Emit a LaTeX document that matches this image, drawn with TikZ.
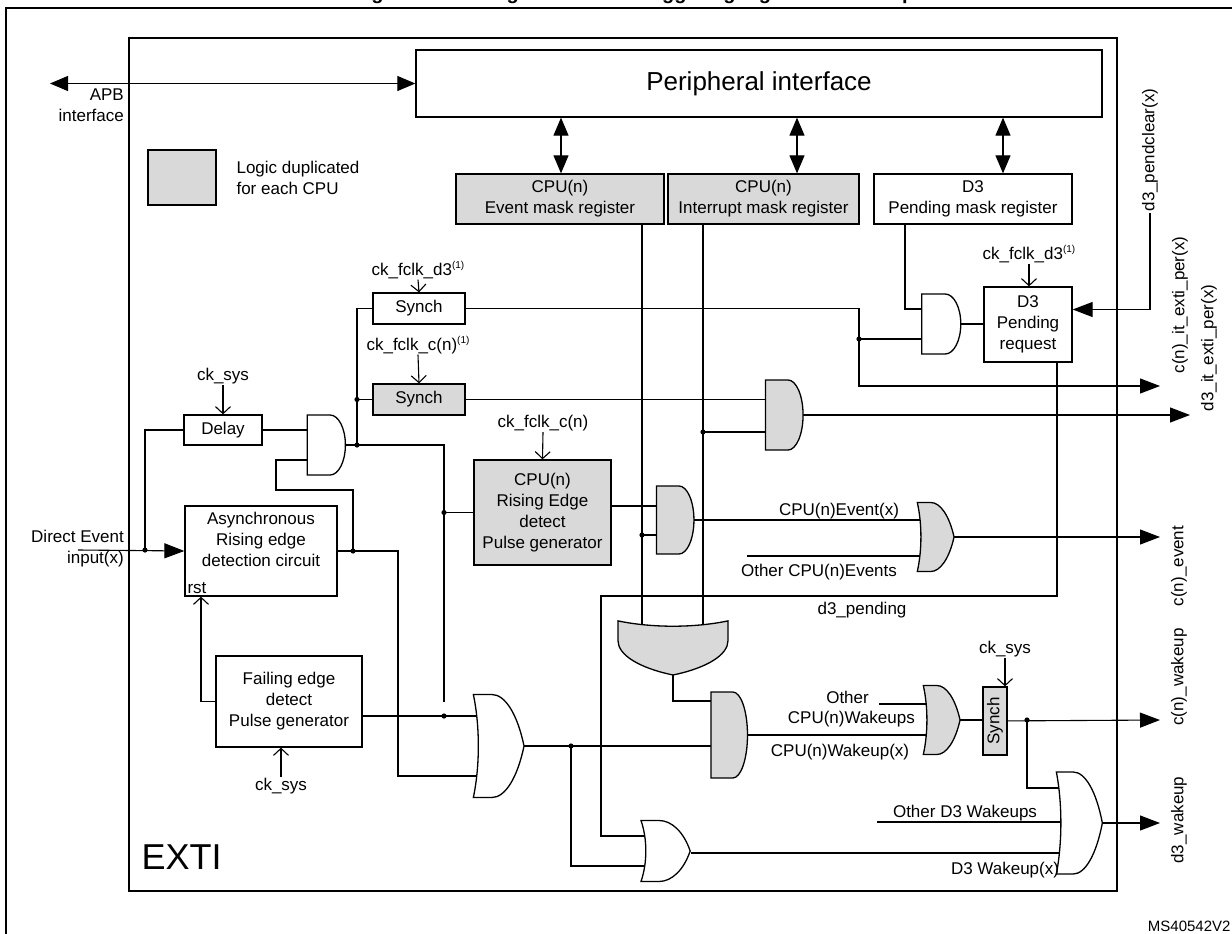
\documentclass[tikz,border=0pt]{standalone}
\usepackage{fontspec}
\setmainfont{Liberation Sans}
\usetikzlibrary{shapes.gates.logic.US,arrows.meta,backgrounds,calc}
\definecolor{dup}{gray}{0.85}
\newcommand\fs{\fontsize{17}{21}\selectfont}
\newcommand\nt{\raisebox{0.7ex}{\fontsize{10}{10}\selectfont(1)}}
\begin{document}
\begin{tikzpicture}[x=1pt,y=-1pt]
       \tikzstyle{blk}=[draw, line width=1.3pt, fill=white, align=center, inner sep=0pt, font=\fs]
       \tikzstyle{shd}=[blk, fill=dup]
       \tikzstyle{lbl}=[font=\fs, inner sep=1pt]
       \tikzstyle{gate}=[draw, line width=1.3pt, fill=white, inner sep=0pt, logic gate inputs=nn]
       \tikzstyle{andg}=[gate, and gate US]
       \tikzstyle{org}=[gate, or gate US]
       \tikzstyle{wire}=[line width=1.1pt]
       \tikzstyle{big}=[wire, -{Triangle[length=20pt,width=15pt]}]
       \tikzstyle{dbl}=[wire, {Triangle[length=18pt,width=15pt]}-{Triangle[length=18pt,width=15pt]}]
       \tikzstyle{clk}=[wire, -{Straight Barb[length=7pt,width=15pt]}]
       \useasboundingbox (0,0) rectangle (1232,934);
       \clip (0,0) rectangle (1232,934);
       \node[font=\bfseries\fontsize{20}{24}\selectfont, anchor=base] (title) at (634,-0.5) {Figure 88. Configurable event triggering logic CPU wakeup};
       \draw[line width=1.3pt] (6,8) rectangle (1250,960);
       \node[draw, line width=1.3pt, minimum width=988pt, minimum height=853pt] (exti) at (623,464.5) {};
       \node[font=\fontsize{36}{40}\selectfont, anchor=west] (extil) at (138,857) {EXTI};
       % registers
       \node[blk, minimum width=686pt, minimum height=67pt, font=\fontsize{26}{30}\selectfont] (periph) at (759,83.5) {Peripheral interface};
       \node[shd, minimum width=208pt, minimum height=50pt] (evm) at (560,199) {CPU(n)\\Event mask register};
       \node[shd, minimum width=191pt, minimum height=50pt] (ivm) at (763.5,199) {CPU(n)\\Interrupt mask register};
       \node[blk, minimum width=198pt, minimum height=50pt] (d3m) at (973,199) {D3\\Pending mask register};
       \node[shd, minimum width=68pt, minimum height=55pt] (legend) at (182,177.5) {};
       \node[lbl, align=left] (legendl) at (298,178) {Logic duplicated\\for each CPU};
       \node[lbl, align=right, anchor=north east] (apb) at (125,88) {APB\\interface};
       \node[lbl, align=right, anchor=east] (din) at (125,549) {Direct Event\\input(x)};
       % blocks
       \node[lbl] (ckd3a) at (418,270) {ck\_fclk\_d3\nt};
       \node[blk, minimum width=92pt, minimum height=31pt] (synchA) at (419,308.5) {Synch};
       \node[lbl] (ckcn1) at (418,345) {ck\_fclk\_c(n)\nt};
       \node[shd, minimum width=92pt, minimum height=31pt] (synchB) at (419,399.5) {Synch};
       \node[lbl] (cksys1) at (223,376) {ck\_sys};
       \node[blk, minimum width=78pt, minimum height=30pt] (delay) at (223,430) {Delay};
       \node[blk, minimum width=152pt, minimum height=90pt] (async) at (261,551) {Asynchronous\\Rising edge\\detection circuit\\[2pt]};
       \node[lbl, anchor=south west, inner sep=3pt] (rst) at (async.south west) {rst};
       \node[lbl] (ckcn2) at (543,423) {ck\_fclk\_c(n)};
       \node[shd, minimum width=137pt, minimum height=105pt] (rise) at (542.5,512.5) {CPU(n)\\Rising Edge\\detect\\Pulse generator};
       \node[blk, minimum width=146pt, minimum height=91pt] (fail) at (289,701.5) {Failing edge\\detect\\Pulse generator};
       \node[lbl] (cksys2) at (281,786) {ck\_sys};
       \node[lbl] (ckd3b) at (1029,254) {ck\_fclk\_d3\nt};
       \node[blk, minimum width=88pt, minimum height=75pt] (pend) at (1028,324.5) {D3\\Pending\\request};
       \node[lbl] (cksys3) at (1005,649) {ck\_sys};
       \node[shd, minimum width=68pt, minimum height=24pt, rotate=90] (synchC) at (995,721) {Synch};
       % gates
       \node[andg, minimum height=60pt, xscale=0.51] (and1) at (325,445) {};
       \node[andg, minimum height=60pt, xscale=0.52] (and3) at (940,324) {};
       \node[andg, fill=dup, minimum height=70pt, xscale=0.43] (andIt) at (783,415) {};
       \node[andg, fill=dup, minimum height=68pt, xscale=0.44] (andEv) at (674,520) {};
       \node[org, fill=dup, minimum height=69pt, xscale=0.39] (orEv) at (933,537) {};
       \node[org, fill=dup, minimum height=110pt, rotate=-90, xscale=0.36] (orDown) at (673,644) {};
       \node[andg, fill=dup, minimum height=86pt, xscale=0.34] (andWk) at (728,735) {};
       \node[org, fill=dup, minimum height=69pt, xscale=0.39] (orWk) at (939,720) {};
       \node[org, minimum height=103pt, xscale=0.36] (orBig) at (495,746) {};
       \node[org, minimum height=61pt, xscale=0.59] (orSm) at (662,851) {};
       \node[org, logic gate inputs=nnn, minimum height=102pt, xscale=0.33] (orD3) at (1076,823) {};
       % signal labels
       \node[lbl] (evx) at (839,511) {CPU(n)Event(x)};
       \node[lbl] (othEv) at (819,572) {Other CPU(n)Events};
       \node[lbl] (d3p) at (862,610) {d3\_pending};
       \node[lbl, anchor=east] (othW) at (870,697) {Other};
       \node[lbl, anchor=east] (othW2) at (916,719) {CPU(n)Wakeups};
       \node[lbl] (wkx) at (840,752) {CPU(n)Wakeup(x)};
       \node[lbl] (othD3) at (965,813) {Other D3 Wakeups};
       \node[lbl] (d3wx) at (1005,870) {D3 Wakeup(x)};
       \node[lbl, rotate=90] (pclr) at (1150,150) {d3\_pendclear(x)};
       \node[lbl, rotate=90] (outAl) at (1180,305) {c(n)\_it\_exti\_per(x)};
       \node[lbl, rotate=90] (outItl) at (1209,348) {d3\_it\_exti\_per(x)};
       \node[lbl, rotate=90] (outEvl) at (1179,566) {c(n)\_event};
       \node[lbl, rotate=90] (outWkl) at (1179,677) {c(n)\_wakeup};
       \node[lbl, rotate=90] (outD3l) at (1179,820) {d3\_wakeup};
       \node[font=\fontsize{15}{18}\selectfont, anchor=east] (ref) at (1234,926) {MS40542V2};
       % joints
       \coordinate (apbend) at (50,83.5);
       \coordinate (dinend) at (78,550);
       \coordinate (j1) at (145,550);
       \coordinate (j2) at (357,445);
       \coordinate (jA) at (353,551);
       \coordinate (k1) at (276,460);
       \coordinate (k2) at (276,490);
       \coordinate (k3) at (398,776);
       \coordinate (k5) at (444,445);
       \coordinate (k6) at (859,386);
       \coordinate (j3) at (859,339);
       \coordinate (k7) at (905,309);
       \coordinate (k8) at (1057,596);
       \coordinate (k9) at (601,596);
       \coordinate (k10) at (601,836);
       \coordinate (j4) at (703,432);
       \coordinate (j5) at (642,535);
       \coordinate (k13) at (747,556);
       \coordinate (k14) at (728,701);
       \coordinate (j6) at (571,746);
       \coordinate (k15) at (571,866);
       \coordinate (k16) at (879,704);
       \coordinate (j7) at (1027,720);
       \coordinate (k17) at (1027,788);
       \coordinate (k18) at (877,822);
       \coordinate (outA) at (1160,386);
       \coordinate (outIt) at (1190,415);
       \coordinate (outEv) at (1160,537);
       \coordinate (outWk) at (1160,720);
       \coordinate (outD3) at (1160,823);
       \begin{scope}[on background layer]
        \draw[dbl] (apbend) -- (periph.west);
        \draw[dbl] ([xshift=1pt]evm.north) -- ([xshift=1pt]evm.north |- periph.south);
        \draw[dbl] ([xshift=33.5pt]ivm.north) -- ([xshift=33.5pt]ivm.north |- periph.south);
        \draw[dbl] ([xshift=30pt]d3m.north) -- ([xshift=30pt]d3m.north |- periph.south);
        \draw[big] (dinend) -- (async.west);
        \draw[wire] (delay.west) -| (j1);
        \draw[clk] (cksys1.south) -- (delay.north);
        \draw[clk] (ckd3a.south) -- (synchA.north);
        \draw[clk] (ckcn1.south) -- (synchB.north);
        \draw[clk] (ckcn2.south) -- (rise.north);
        \draw[clk] (ckd3b.south) -- (ckd3b.south |- pend.north);
        \draw[clk] (cksys3.south) -- (cksys3.south |- synchC.east);
        \draw[clk] (cksys2.north) -- (cksys2.north |- fail.south);
        \draw[clk] (fail.west) -| ([xshift=-60pt]async.south);
        \draw[wire] (delay.east) -- (delay.east -| and1.center);
        \draw[wire] (jA) |- (k2) -- (k1) -- (k1 -| and1.center);
        \draw[wire] (async.east) -| (k3) -- (k3 -| orBig.center);
        \draw[wire] (and1.east) -- (k5) -- (k5 |- fail.east);
        \draw[wire] ([yshift=-14.5pt]fail.east) -- ([yshift=-14.5pt]fail.east -| orBig.center);
        \draw[wire] (k5 |- rise.west) -- (rise.west);
        \draw[wire] (synchA.west) -| (j2);
        \draw[wire] (j2 |- synchB.west) -- (synchB.west);
        \draw[big] (synchA.east) -| (k6) -- (outA);
        \draw[wire] (j3) -- (j3 -| and3.center);
        \draw[wire] (k7 |- d3m.south) -- (k7) -- (k7 -| and3.center);
        \draw[wire] (and3.east) -- (and3.east -| pend.west);
        \draw[big] (pclr.west) |- ([yshift=15pt]pend.east);
        \draw[wire] (k8 |- pend.south) -- (k8) -- (k9) -- (k10) -- (k10 -| orSm.center);
        \draw[wire] (synchB.east) -- (synchB.east -| andIt.center);
        \draw[wire] (j4 |- ivm.south) -- (j4 |- orDown.center);
        \draw[wire] (j4) -- (j4 -| andIt.center);
        \draw[wire] (j5 |- evm.south) -- (j5 |- orDown.center);
        \draw[wire] (j5) -- (j5 -| andEv.center);
        \draw[wire] ([yshift=6.5pt]rise.east) -- ([yshift=6.5pt]rise.east -| andEv.center);
        \draw[wire] (andEv.east) -- (andEv.east -| orEv.center);
        \draw[wire] (k13) -- (k13 -| orEv.center);
        \draw[big] (orEv.east) -- (outEv);
        \draw[big] (andIt.east) -- (outIt);
        \draw[wire] (orDown.east) |- (k14);
        \draw[wire] (orBig.east) -- (j6) -- (j6 -| andWk.center);
        \draw[wire] (j6) -- (k15) -- (k15 -| orSm.center);
        \draw[wire] (andWk.east) -- (andWk.east -| orWk.center);
        \draw[wire] (k16) -- (k16 -| orWk.center);
        \draw[wire] (orWk.east) -- (orWk.east -| synchC.center);
        \draw[big] (synchC.center) -- (outWk);
        \draw[wire] (j7) -- (k17) -- (k17 -| orD3.center);
        \draw[wire] (k18) -- (k18 -| orD3.center);
        \draw[wire] ([yshift=-2pt]orSm.east) -- ([yshift=-2pt]orSm.east -| orD3.center);
        \draw[big] (orD3.east) -- (outD3);
       \end{scope}
       \foreach \j in {j1, j2, jA, j3, j4, j5, j6, j7}
        \fill (\j) circle (2.6pt);
       \fill (k5 |- rise.west) circle (2.6pt);
       \fill (k5 |- fail.east) ++(0,14.5) circle (2.6pt);
       \fill (j2 |- synchB.west) circle (2.6pt);
      \end{tikzpicture}
\end{document}
